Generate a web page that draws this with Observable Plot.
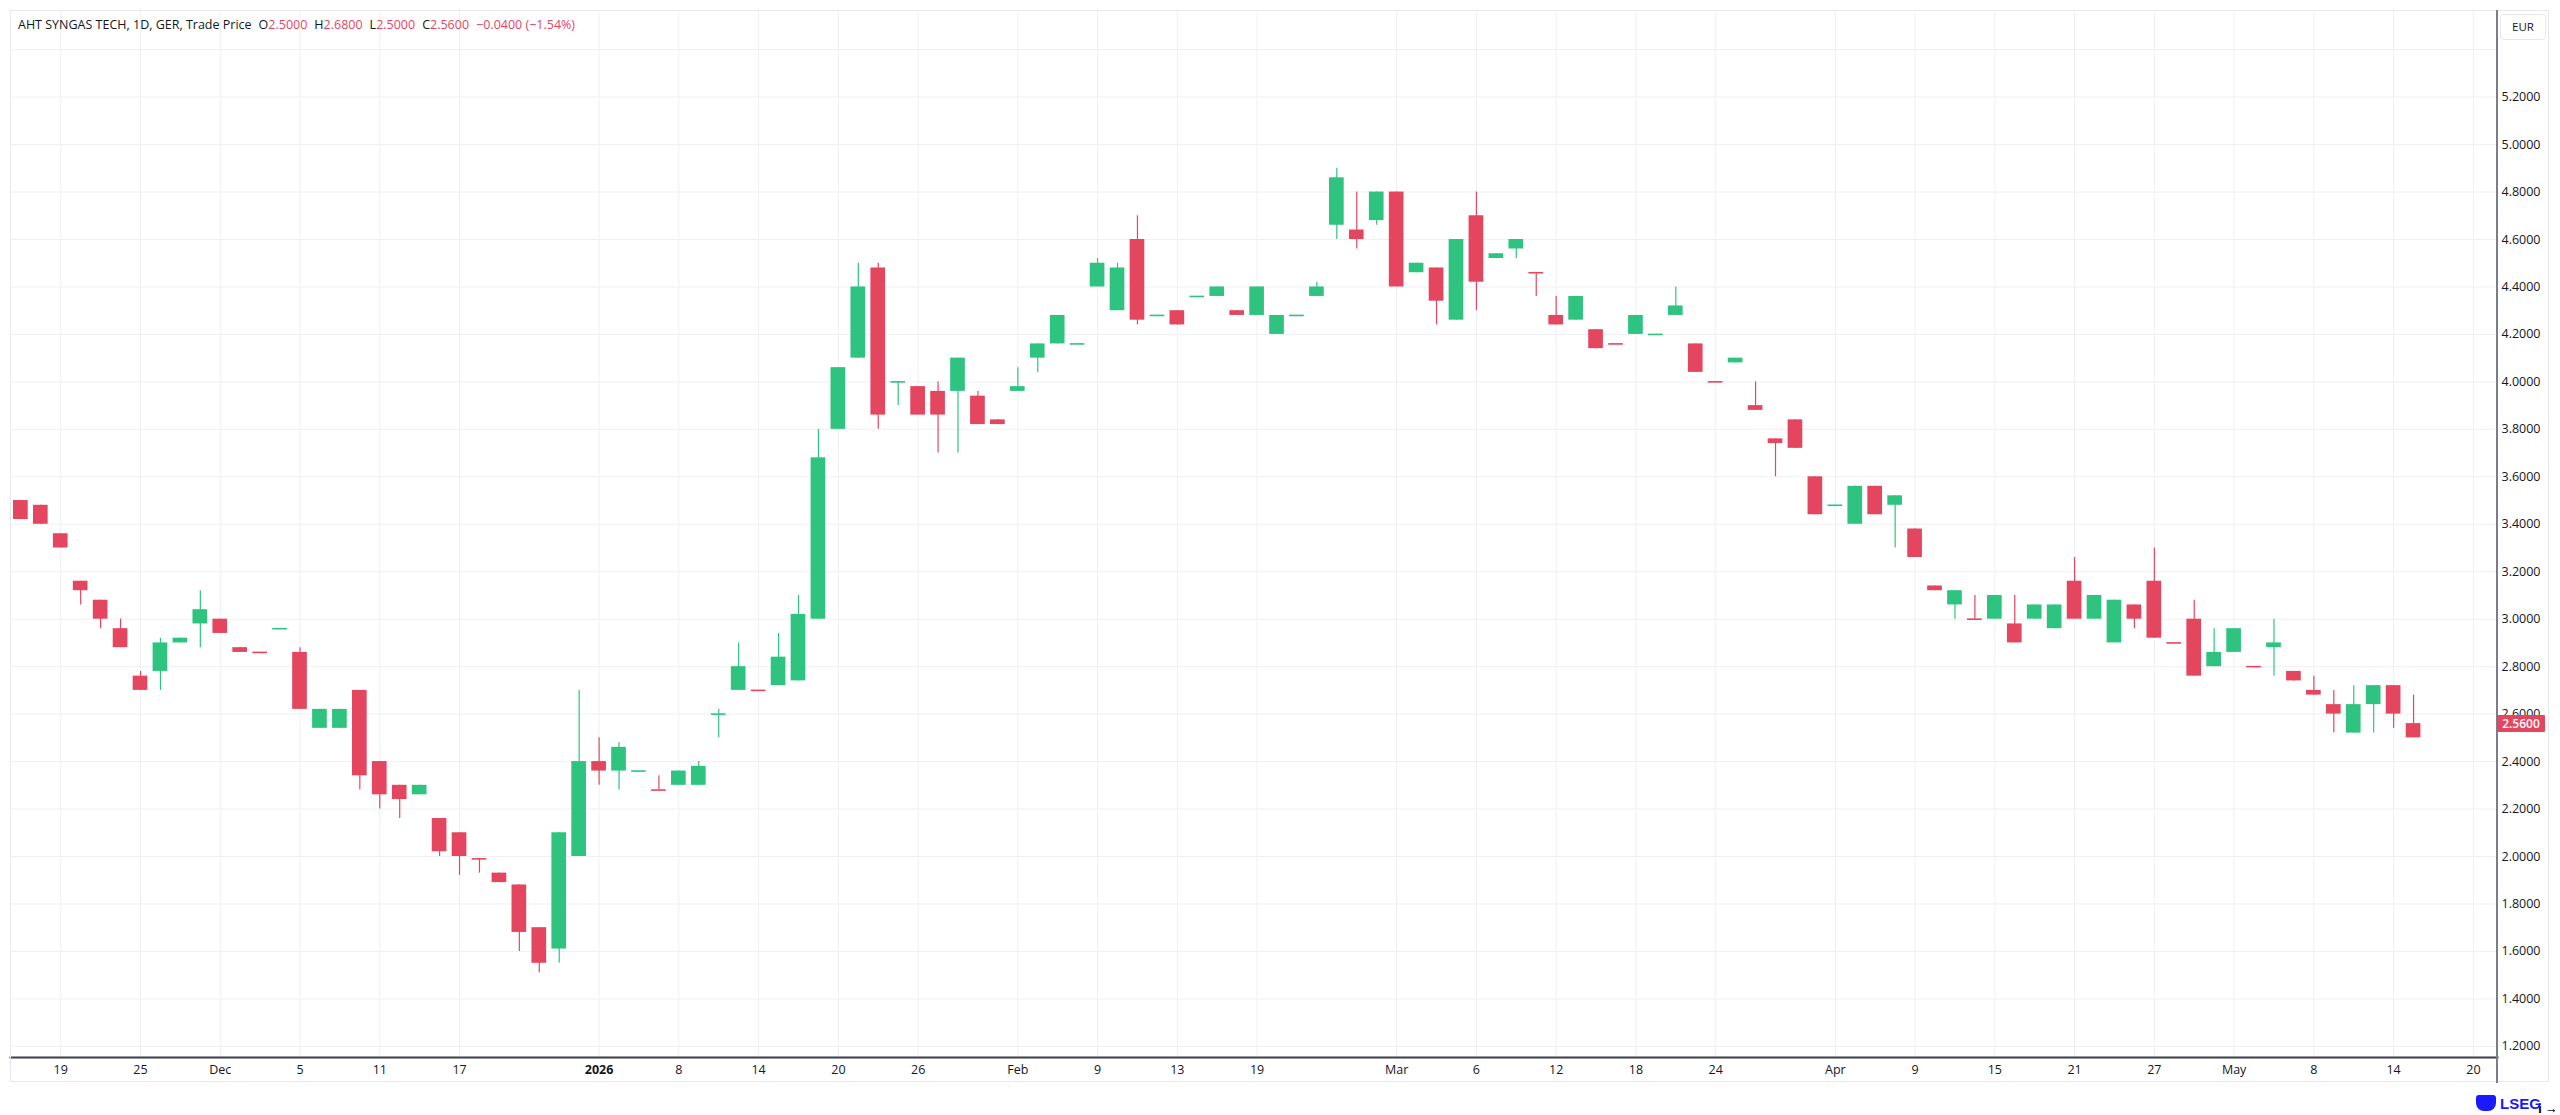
<!DOCTYPE html>
<html>
<head>
<meta charset="utf-8">
<script src="https://cdn.jsdelivr.net/npm/d3@7"></script>
<script src="https://cdn.jsdelivr.net/npm/@observablehq/plot@0.6"></script>
<style>
  html, body { margin: 0; padding: 0; background: #ffffff; }
  #wrap { position: relative; width: 2560px; height: 1115px; overflow: hidden;
          font-family: "Open Sans", "Liberation Sans", sans-serif; color: #131722; }
  #wrap svg { position: absolute; left: 0; top: 0; }
  .pane { position: absolute; left: 10px; top: 10px; width: 2539px; height: 1072px;
          border: 1px solid #e6e8ee; pointer-events: none; box-sizing: border-box; }
  .vline { position: absolute; left: 2496px; top: 10px; width: 1.6px; height: 1073px; background: #7b7e88; }
  .header { position: absolute; left: 18px; top: 15px; font-size: 12.5px; line-height: 20px; white-space: pre; }
  .header .v { color: #e5465f; }
  .header .g { margin-left: 7px; }
  .eur { position: absolute; left: 2500px; top: 14px; width: 46px; height: 26px; box-sizing: border-box;
         border: 1px solid #e6e8ee; border-radius: 4px; font-size: 11.5px; line-height: 24px; text-align: center; }
  .price { position: absolute; left: 2497px; width: 48px; height: 17px; background: #e5465f; color: #fff;
           font-size: 12px; font-weight: 600; line-height: 17px; text-align: center; border-radius: 1px; }
  .logo { position: absolute; left: 2476px; top: 1094px; height: 18px; display: flex; align-items: center; gap: 4px;
          color: #1a1aff; font-weight: 700; font-size: 15px; font-family: "Liberation Sans", sans-serif; }
  .logo .mark { width: 20px; height: 16px; background: #1a1aff; border-radius: 3px 3px 8px 8px; }
</style>
</head>
<body>
<div id="wrap"></div>
<script>
// ---- data (daily candles, oldest first) ----
const opens  = [3.50,3.48,3.36,3.16,3.08,2.96,2.76,2.78,2.90,2.98, 3.00,2.88,2.86,2.96,2.86,2.54,2.54,2.70,2.40,2.30,
                2.26,2.16,2.10,1.99,1.93,1.88,1.70,1.61,2.00,2.40, 2.36,2.36,2.28,2.30,2.30,2.60,2.70,2.70,2.72,2.74,
                3.00,3.80,4.10,4.48,4.00,3.98,3.96,3.96,3.94,3.84, 3.96,4.10,4.16,4.16,4.40,4.30,4.60,4.28,4.30,4.36,
                4.36,4.30,4.28,4.20,4.28,4.36,4.66,4.64,4.68,4.80, 4.46,4.48,4.26,4.70,4.52,4.56,4.46,4.28,4.26,4.22,
                4.16,4.20,4.20,4.28,4.16,4.00,4.08,3.90,3.76,3.84, 3.60,3.48,3.40,3.56,3.48,3.38,3.14,3.06,3.00,3.00,
                2.98,3.00,2.96,3.16,3.00,2.90,3.06,3.16,2.90,3.00, 2.80,2.86,2.80,2.88,2.78,2.70,2.64,2.52,2.64,2.72,
                2.50];
const highs  = [3.50,3.48,3.36,3.16,3.08,3.00,2.78,2.92,2.92,3.12, 3.00,2.88,2.86,2.96,2.88,2.62,2.62,2.70,2.40,2.30,
                2.30,2.16,2.10,1.99,1.93,1.88,1.70,2.10,2.70,2.50, 2.48,2.36,2.34,2.36,2.40,2.62,2.90,2.70,2.94,3.10,
                3.80,4.06,4.50,4.50,4.00,3.98,4.00,4.10,3.96,3.84, 4.06,4.16,4.28,4.16,4.52,4.50,4.70,4.28,4.30,4.36,
                4.40,4.30,4.40,4.28,4.28,4.42,4.90,4.80,4.80,4.80, 4.50,4.48,4.60,4.80,4.54,4.60,4.46,4.36,4.36,4.22,
                4.16,4.28,4.20,4.40,4.16,4.00,4.10,4.00,3.76,3.84, 3.60,3.48,3.56,3.56,3.52,3.38,3.14,3.12,3.10,3.10,
                3.10,3.06,3.06,3.26,3.10,3.08,3.06,3.30,2.90,3.08, 2.96,2.96,2.80,3.00,2.78,2.76,2.70,2.72,2.72,2.72,
                2.68];
const lows   = [3.42,3.40,3.30,3.06,2.96,2.88,2.70,2.70,2.90,2.88, 2.94,2.86,2.86,2.96,2.62,2.54,2.54,2.28,2.20,2.16,
                2.26,2.00,1.92,1.93,1.89,1.60,1.51,1.55,2.00,2.30, 2.28,2.36,2.28,2.30,2.30,2.50,2.70,2.70,2.72,2.74,
                3.00,3.80,4.10,3.80,3.90,3.86,3.70,3.70,3.82,3.82, 3.96,4.04,4.16,4.16,4.40,4.30,4.24,4.28,4.24,4.36,
                4.36,4.28,4.28,4.20,4.28,4.36,4.60,4.56,4.66,4.40, 4.46,4.24,4.26,4.30,4.52,4.52,4.36,4.24,4.26,4.14,
                4.16,4.20,4.20,4.28,4.04,4.00,4.08,3.88,3.60,3.72, 3.44,3.48,3.40,3.44,3.30,3.26,3.12,3.00,3.00,3.00,
                2.90,3.00,2.96,3.00,3.00,2.90,2.96,2.92,2.90,2.76, 2.80,2.86,2.80,2.76,2.74,2.68,2.52,2.52,2.52,2.54,
                2.50];
const closes = [3.42,3.40,3.30,3.12,3.00,2.88,2.70,2.90,2.92,3.04, 2.94,2.86,2.86,2.96,2.62,2.62,2.62,2.34,2.26,2.24,
                2.30,2.02,2.00,1.99,1.89,1.68,1.55,2.10,2.40,2.36, 2.46,2.36,2.28,2.36,2.38,2.60,2.80,2.70,2.84,3.02,
                3.68,4.06,4.40,3.86,4.00,3.86,3.86,4.10,3.82,3.82, 3.98,4.16,4.28,4.16,4.50,4.48,4.26,4.28,4.24,4.36,
                4.40,4.28,4.40,4.28,4.28,4.40,4.86,4.60,4.80,4.40, 4.50,4.34,4.60,4.42,4.54,4.60,4.46,4.24,4.36,4.14,
                4.16,4.28,4.20,4.32,4.04,4.00,4.10,3.88,3.74,3.72, 3.44,3.48,3.56,3.44,3.52,3.26,3.12,3.12,3.00,3.10,
                2.90,3.06,3.06,3.00,3.10,3.08,3.00,2.92,2.90,2.76, 2.86,2.96,2.80,2.90,2.74,2.68,2.60,2.64,2.72,2.60,
                2.56];
// candle colour direction as shown on the chart: u = up (green), d = down (red), ten bars per group
const directions = [
  "ddddddduuu", "ddduduuddd", "udddddduud", "uuduuuuduu", "uuududdudd",
  "uuuuuududu", "uduuuuudud", "ududuuddud", "duuudduddd", "duududdudu",
  "duuduudddd", "uududdduud", "d"
].join("");
// time-axis tick labels and the bar each sits on
const tickBars   = [2, 6, 10, 14, 18, 22, 29, 33, 37, 41, 45, 50, 54, 58, 62, 69, 73, 77, 81, 85, 91, 95, 99, 103, 107, 111, 115, 119, 123];
const tickLabels = ["19","25","Dec","5","11","17","2026","8","14","20","26","Feb","9","13","19","Mar","6","12","18","24","Apr","9","15","21","27","May","8","14","20"];
const yearLabels = ["2026"];
const priceTicks = [1.2,1.4,1.6,1.8,2.0,2.2,2.4,2.6,2.8,3.0,3.2,3.4,3.6,3.8,4.0,4.2,4.4,4.6,4.8,5.0,5.2];
const priceGrid  = [...priceTicks, 5.4];
const symbolTitle = "AHT SYNGAS TECH, 1D, GER, Trade Price";
const currency = "EUR";

// ---- build ----
const UP = "#2ec480", DOWN = "#e5465f";
const bars = opens.map((o, i) => ({i, o, h: highs[i], l: lows[i], c: closes[i], dir: directions[i] || "u"}));
const bodies = bars.filter(d => d.o !== d.c);
const flats  = bars.filter(d => d.o === d.c);
const half = 0.368;
const labelOf = new Map(tickBars.map((b, k) => [b, tickLabels[k]]));
const normalTicks = tickBars.filter(b => !yearLabels.includes(labelOf.get(b)));
const yearTicks   = tickBars.filter(b => yearLabels.includes(labelOf.get(b)));

const chart = Plot.plot({
  width: 2560, height: 1115,
  marginLeft: 10, marginRight: 63, marginTop: 10, marginBottom: 58,
  x: {domain: [-0.52, 124.21], axis: null},
  y: {domain: [1.153, 5.565], axis: null},
  color: {domain: ["u", "d"], range: [UP, DOWN]},
  style: {fontFamily: '"Open Sans", "Liberation Sans", sans-serif', fontSize: "12.5px", color: "#131722", background: "transparent"},
  marks: [
    Plot.gridY(priceGrid, {stroke: "#eff0f3", strokeOpacity: 1}),
    Plot.gridX(tickBars, {stroke: "#eff0f3", strokeOpacity: 1}),
    Plot.ruleX(bars, {x: "i", y1: "l", y2: "h", stroke: "dir", strokeWidth: 1.2}),
    Plot.rect(bodies, {x1: d => d.i - half, x2: d => d.i + half, y1: "o", y2: "c", fill: "dir"}),
    Plot.ruleY(flats, {y: "c", x1: d => d.i - half, x2: d => d.i + half, stroke: "dir", strokeWidth: 1.6}),
    Plot.axisY(priceTicks, {anchor: "right", tickSize: 0, tickPadding: 4, tickFormat: d => d.toFixed(4), fill: "#131722"}),
    Plot.axisX(normalTicks, {anchor: "bottom", tickSize: 0, tickPadding: 8, tickFormat: b => labelOf.get(b), fill: "#131722"}),
    Plot.axisX(yearTicks, {anchor: "bottom", tickSize: 0, tickPadding: 8, tickFormat: b => labelOf.get(b), fill: "#131722", fontWeight: "bold"}),
    Plot.frame({anchor: "bottom", stroke: "#3b3e48", strokeWidth: 2})
  ]
});

const wrap = document.getElementById("wrap");
wrap.appendChild(chart);

const add = (cls, html) => { const el = document.createElement("div"); el.className = cls; if (html != null) el.innerHTML = html; wrap.appendChild(el); return el; };
add("pane");
add("vline");

const last = bars[bars.length - 1], prev = bars[bars.length - 2];
const chg = last.c - prev.c, pct = chg / prev.c * 100;
const f4 = v => v.toFixed(4);
add("header",
  `${symbolTitle}<span class="g">O<span class="v">${f4(last.o)}</span></span>` +
  `<span class="g">H<span class="v">${f4(last.h)}</span></span>` +
  `<span class="g">L<span class="v">${f4(last.l)}</span></span>` +
  `<span class="g">C<span class="v">${f4(last.c)}</span></span>` +
  `<span class="g v">${(chg < 0 ? "\u2212" : "+") + f4(Math.abs(chg))} (${(pct < 0 ? "\u2212" : "+") + Math.abs(pct).toFixed(2)}%)</span>`);
add("eur", currency);
const yPx = chart.scale("y").apply(last.c);
const pl = add("price", f4(last.c));
pl.style.top = (yPx - 8.5) + "px";
add("logo", `<div class="mark"></div><span>LSEG</span>`);
</script>
</body>
</html>
